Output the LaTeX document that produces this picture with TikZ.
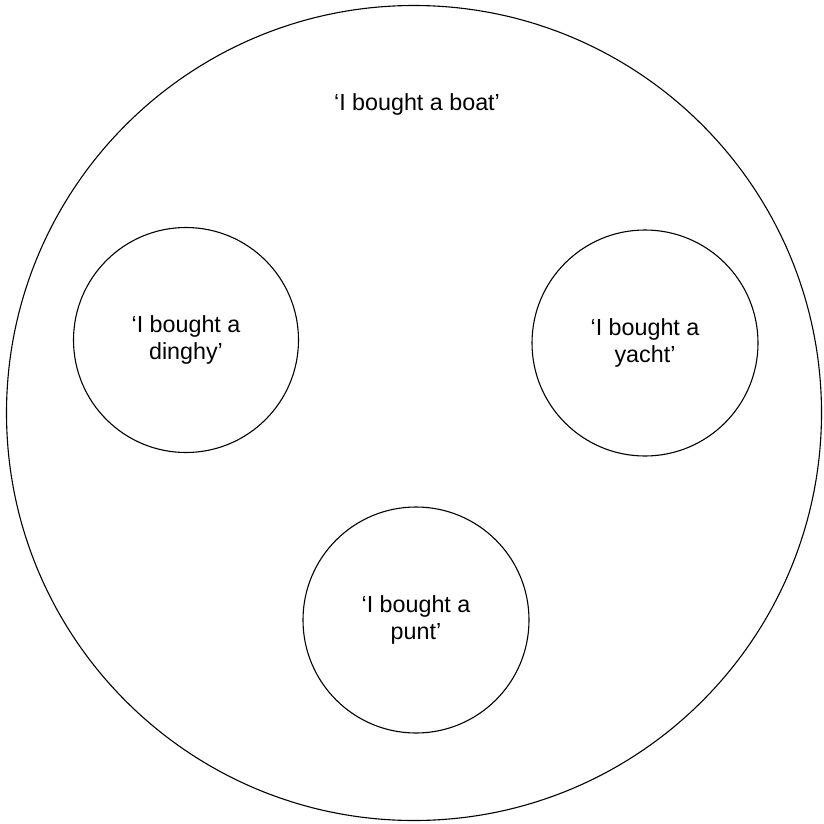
\documentclass[tikz,border=0pt]{standalone}
\usepackage{fontspec}
\setmainfont{Liberation Sans}
\begin{document}
\begin{tikzpicture}[x=1pt,y=-1pt,
  ring/.style={draw=black, line width=1.1pt, circle, inner sep=0pt},
  lbl/.style={align=center, font=\fontsize{23.3}{27.5}\selectfont}]
\useasboundingbox (0,0) rectangle (823,824);
\node[ring, minimum size=815pt] (outer) at (414,413) {};
\node[ring, minimum size=225pt] (dinghy) at (186,340) {};
\node[ring, minimum size=226pt] (yacht) at (645,343) {};
\node[ring, minimum size=226pt] (punt) at (416,620) {};
\node[lbl] (tboat) at (417,104) {‘I bought a boat’};
\node[lbl] (tdinghy) at (dinghy.center) {‘I bought a\\dinghy’};
\node[lbl] (tyacht) at (yacht.center) {‘I bought a\\yacht’};
\node[lbl] (tpunt) at (punt.center) {‘I bought a\\punt’};
\end{tikzpicture}
\end{document}
